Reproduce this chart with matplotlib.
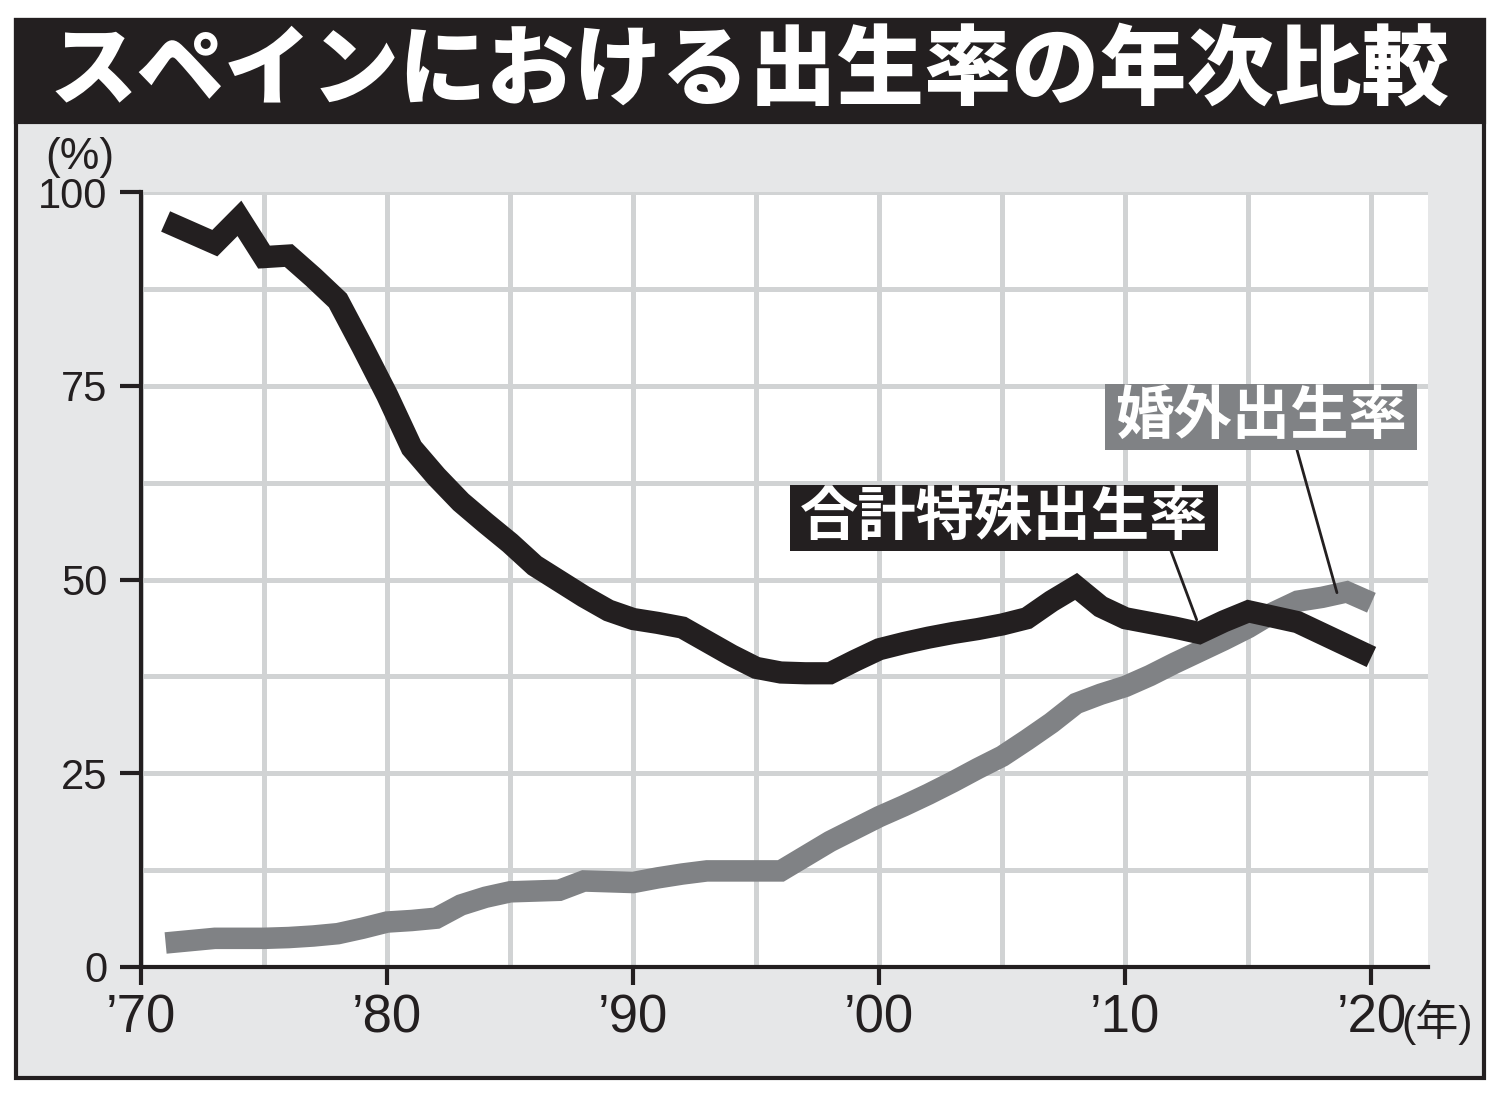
import matplotlib
matplotlib.use("Agg")
import matplotlib.pyplot as plt
from matplotlib.patches import Rectangle
from matplotlib.ticker import FixedLocator

# データ
years = list(range(1971, 2021))
tfr = [96.2, 94.8, 93.4, 96.6, 91.6, 91.8, 89.0, 86.0, 80.0, 73.8,
       67.0, 63.3, 60.0, 57.3, 54.7, 51.8, 49.8, 47.8, 46.0, 44.9,
       44.4, 43.8, 42.0, 40.2, 38.6, 38.0, 37.9, 37.9, 39.5, 41.0,
       41.8, 42.5, 43.1, 43.6, 44.2, 45.0, 47.2, 49.1, 46.5, 45.0,
       44.4, 43.8, 43.1, 44.6, 45.9, 45.2, 44.5, 43.0, 41.5, 40.0]
nonmarital = [3.1, 3.4, 3.7, 3.7, 3.7, 3.8, 4.0, 4.3, 5.0, 5.8,
              6.0, 6.3, 8.0, 9.0, 9.7, 9.8, 9.9, 11.1, 11.0, 10.9,
              11.5, 12.0, 12.4, 12.4, 12.4, 12.4, 14.3, 16.2, 17.8, 19.4,
              20.8, 22.3, 23.9, 25.6, 27.2, 29.3, 31.5, 34.0, 35.2, 36.2,
              37.6, 39.2, 40.7, 42.2, 43.8, 45.7, 47.2, 47.7, 48.4, 47.0]
x_ticks = [1970, 1980, 1990, 2000, 2010, 2020]
x_labels = ["\u201970", "\u201980", "\u201990", "\u201900", "\u201910", "\u201920"]
y_ticks = [0, 25, 50, 75, 100]

title = "スペインにおける出生率の年次比較"
label_tfr = "合計特殊出生率"
label_nm = "婚外出生率"

BLACK = "#231f20"
GRAY = "#808285"
GRID = "#d1d3d4"
PANEL = "#e6e7e8"

W, H = 1500, 1097
JP = ["Noto Sans CJK JP", "DejaVu Sans"]
NUM = "Liberation Sans"


def fx(px):
    return px / W


def fy(py):
    return 1 - py / H


def main():
    fig = plt.figure(figsize=(15, 10.97), dpi=100)

    # 外枠とタイトル帯
    fig.add_artist(Rectangle((fx(16), fy(1078)), fx(1484) - fx(16), fy(20) - fy(1078),
                             transform=fig.transFigure, facecolor=PANEL,
                             edgecolor=BLACK, linewidth=3, zorder=0))
    fig.add_artist(Rectangle((fx(16), fy(122)), fx(1484) - fx(16), fy(20) - fy(122),
                             transform=fig.transFigure, facecolor=BLACK,
                             edgecolor=BLACK, linewidth=3, zorder=1))
    fig.text(fx(750), fy(72), title, color="white", fontsize=63,
             fontweight="heavy", family=JP, ha="center", va="center")

    ax = fig.add_axes([fx(141), fy(967), fx(1428) - fx(141), fy(192) - fy(967)])
    ax.set_facecolor("white")

    ax.plot(years, nonmarital, color=GRAY, linewidth=15.5,
            solid_joinstyle="miter", solid_capstyle="butt", zorder=3)
    ax.plot(years, tfr, color=BLACK, linewidth=16,
            solid_joinstyle="miter", solid_capstyle="butt", zorder=4)

    ax.set_xlim(1970, 2022.3)
    ax.set_ylim(0, 100)

    ax.set_xticks(x_ticks)
    ax.set_xticklabels(x_labels)
    ax.xaxis.set_minor_locator(FixedLocator(range(1975, 2021, 5)))
    ax.set_yticks(y_ticks)
    ax.yaxis.set_minor_locator(FixedLocator([12.5, 37.5, 62.5, 87.5]))

    ax.grid(which="both", color=GRID, linewidth=3.6, zorder=1)
    ax.set_axisbelow(True)

    for side in ["top", "right"]:
        ax.spines[side].set_visible(False)
    for side in ["left", "bottom"]:
        ax.spines[side].set_linewidth(3)
        ax.spines[side].set_color(BLACK)
        ax.spines[side].set_zorder(5)

    ax.tick_params(which="minor", length=0)
    ax.tick_params(axis="y", which="major", length=15, width=3, color=BLACK,
                   pad=9, labelsize=30, labelcolor=BLACK)
    ax.tick_params(axis="x", which="major", length=13, width=3, color=BLACK,
                   pad=6, labelsize=38, labelcolor=BLACK)
    for lab in ax.get_xticklabels() + ax.get_yticklabels():
        lab.set_family(NUM)

    # 単位
    fig.text(fx(80), fy(157), "(%)", fontsize=32, family=NUM,
             color=BLACK, ha="center", va="center")
    fig.text(fx(1401), fy(1022), "(年)", fontsize=31,
             family=[NUM, "Noto Sans CJK JP"], color=BLACK, ha="left", va="center")

    # ラベル（箱）
    fig.add_artist(Rectangle((fx(1105), fy(450)), fx(1417) - fx(1105), fy(384) - fy(450),
                             transform=fig.transFigure, facecolor=GRAY,
                             edgecolor="none", zorder=6))
    fig.text(fx(1261), fy(417), label_nm, color="white", fontsize=42,
             fontweight="bold", family=JP, ha="center", va="center", zorder=7)
    fig.add_artist(Rectangle((fx(790), fy(551)), fx(1218) - fx(790), fy(485) - fy(551),
                             transform=fig.transFigure, facecolor=BLACK,
                             edgecolor="none", zorder=6))
    fig.text(fx(1004), fy(518), label_tfr, color="white", fontsize=42,
             fontweight="bold", family=JP, ha="center", va="center", zorder=7)

    # 引き出し線
    ax.annotate("", xy=(2018.6, 48.3), xytext=(fx(1297), fy(450)),
                textcoords="figure fraction",
                arrowprops=dict(arrowstyle="-", color=BLACK, lw=2,
                                shrinkA=0, shrinkB=0), zorder=6)
    ax.annotate("", xy=(2012.9, 44.8), xytext=(fx(1171), fy(551)),
                textcoords="figure fraction",
                arrowprops=dict(arrowstyle="-", color=BLACK, lw=2,
                                shrinkA=0, shrinkB=0), zorder=6)

    fig.savefig("out.png", dpi=100)


if __name__ == "__main__":
    main()
